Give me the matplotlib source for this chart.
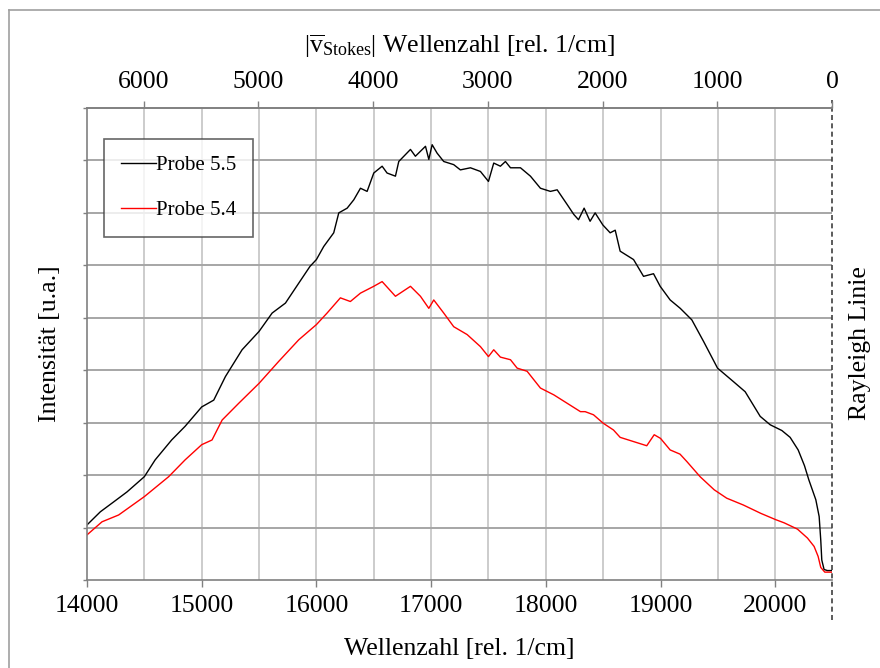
import matplotlib
matplotlib.use("Agg")
import matplotlib.pyplot as plt
from matplotlib.lines import Line2D

plt.rcParams['font.family'] = ['Liberation Serif', 'DejaVu Serif']
plt.rcParams['mathtext.fontset'] = 'custom'
plt.rcParams['mathtext.rm'] = 'Liberation Serif'
plt.rcParams['mathtext.it'] = 'Liberation Serif:italic'

# Probe 5.5 (black)
wn55 = [14000, 14116, 14233, 14349, 14500, 14594, 14738, 14855, 15000, 15105,
        15207, 15352, 15500, 15614, 15730, 15846, 15944, 16000, 16064, 16151,
        16195, 16268, 16326, 16384, 16442, 16500, 16573, 16616, 16689, 16718,
        16820, 16863, 16951, 16980, 17009, 17052, 17110, 17197, 17255, 17343,
        17430, 17500, 17546, 17604, 17648, 17692, 17779, 17866, 17953, 18040,
        18099, 18186, 18244, 18285, 18334, 18386, 18430, 18497, 18561, 18605,
        18648, 18765, 18852, 18939, 18997, 19084, 19172, 19273, 19375, 19497,
        19637, 19738, 19869, 19956, 20058, 20130, 20200, 20255, 20293, 20354,
        20383, 20397, 20406, 20426, 20455, 20495]
int55 = [1.05, 1.30, 1.49, 1.68, 1.97, 2.29, 2.67, 2.93, 3.30, 3.43,
         3.88, 4.39, 4.74, 5.09, 5.28, 5.66, 5.98, 6.11, 6.36, 6.62,
         7.00, 7.09, 7.25, 7.47, 7.41, 7.76, 7.89, 7.76, 7.70, 7.98,
         8.21, 8.08, 8.27, 8.02, 8.30, 8.14, 7.98, 7.92, 7.82, 7.86,
         7.79, 7.60, 7.95, 7.89, 7.98, 7.86, 7.86, 7.70, 7.47, 7.41,
         7.44, 7.16, 6.97, 6.87, 7.09, 6.84, 7.00, 6.77, 6.62, 6.67,
         6.27, 6.11, 5.79, 5.84, 5.60, 5.34, 5.18, 4.96, 4.55, 4.04,
         3.78, 3.59, 3.12, 2.96, 2.85, 2.72, 2.48, 2.18, 1.91, 1.53,
         1.21, 0.76, 0.38, 0.20, 0.18, 0.18]

# Probe 5.4 (red)
wn54 = [14000, 14131, 14276, 14500, 14712, 14855, 15000, 15090, 15178, 15323,
        15500, 15672, 15846, 16000, 16093, 16209, 16296, 16384, 16500, 16573,
        16689, 16820, 16907, 16980, 17023, 17110, 17197, 17314, 17430, 17500,
        17546, 17604, 17692, 17750, 17837, 17953, 18070, 18186, 18302, 18343,
        18416, 18500, 18590, 18648, 18764, 18880, 18945, 19000, 19084, 19170,
        19229, 19345, 19468, 19577, 19722, 19875, 20005, 20078, 20194, 20281,
        20339, 20374, 20397, 20432, 20495]
int54 = [0.86, 1.11, 1.24, 1.59, 1.97, 2.29, 2.58, 2.67, 3.05, 3.37,
         3.75, 4.17, 4.58, 4.87, 5.09, 5.38, 5.31, 5.47, 5.60, 5.69,
         5.41, 5.60, 5.41, 5.18, 5.34, 5.09, 4.83, 4.68, 4.45, 4.26,
         4.39, 4.25, 4.20, 4.04, 3.98, 3.66, 3.53, 3.37, 3.21, 3.21,
         3.15, 2.99, 2.86, 2.72, 2.64, 2.56, 2.77, 2.70, 2.48, 2.40,
         2.26, 1.97, 1.72, 1.56, 1.43, 1.27, 1.15, 1.09, 0.97, 0.80,
         0.64, 0.45, 0.24, 0.15, 0.15]

rayleigh = 20495
bottom_ticks = [14000, 15000, 16000, 17000, 18000, 19000, 20000]
top_ticks = [6000, 5000, 4000, 3000, 2000, 1000, 0]

fig = plt.figure(figsize=(8.8, 6.68), dpi=100)
ax = fig.add_axes([87/880, 1-580/668, (832-87)/880, (580-108)/668])

# outer frame
fig.add_artist(Line2D([9/880, 9/880], [0, 1-10/668], color='#a0a0a0', lw=1.2))
fig.add_artist(Line2D([9/880, 1], [1-10/668, 1-10/668], color='#a0a0a0', lw=1.2))

for x in range(14500, 20001, 500):
    ax.axvline(x, color='#cccccc', lw=1.4, zorder=0)
for y in range(1, 9):
    ax.axhline(y, color='#a6a6a6', lw=1.4, zorder=0)

ax.plot(wn55, int55, color='black', lw=1.0, label='Probe 5.5')
ax.plot(wn54, int54, color='red', lw=1.0, label='Probe 5.4')

ax.set_xlim(14000, rayleigh)
ax.set_ylim(0, 9)
ax.set_xticks(bottom_ticks)
ax.set_xticklabels([str(t) for t in bottom_ticks])
ax.set_yticks(range(0, 10))
ax.set_yticklabels([])
ax.tick_params(axis='x', direction='out', length=5, width=1, color='#808080',
               labelsize=18.5, pad=6)
ax.tick_params(axis='y', direction='out', length=3, width=1, color='#808080')
for s in ['left', 'bottom', 'top']:
    ax.spines[s].set_color('#808080')
    ax.spines[s].set_linewidth(1.2)
ax.spines['right'].set_visible(False)

# Rayleigh line
ax.plot([rayleigh, rayleigh], [-0.76, 9.15], color='#404040', lw=1.2,
        ls=(0, (3, 2)), clip_on=False)

ax.set_xlabel('Wellenzahl [rel. 1/cm]', fontsize=18.5, labelpad=15)
ax.set_ylabel('Intensität [u.a.]', fontsize=18.5, labelpad=12)

top = ax.twiny()
top.set_xlim(rayleigh - 14000, 0)
top.set_xticks(top_ticks)
top.set_xticklabels([str(t) for t in top_ticks])
top.tick_params(axis='x', direction='out', length=5, width=1, color='#808080',
                labelsize=18.5, pad=6)
for s in ['left', 'bottom', 'right']:
    top.spines[s].set_visible(False)
top.spines['top'].set_color('#808080')
top.spines['top'].set_linewidth(1.2)
top.set_xlabel(r'$|\overline{\mathrm{v}}_{\mathrm{Stokes}}|$ Wellenzahl [rel. 1/cm]',
               fontsize=18.5, labelpad=13)

fig.text(860/880, 1-343/668, 'Rayleigh Linie', rotation=90, fontsize=18.5,
         ha='center', va='center')

leg = ax.legend(loc='upper left', bbox_to_anchor=(104/880, 1-139/668),
                bbox_transform=fig.transFigure, fontsize=15, frameon=True,
                fancybox=False, borderaxespad=0, handlelength=1.7,
                handletextpad=0.0, labelspacing=1.2, borderpad=0.8)
leg.get_frame().set_edgecolor('#404040')
leg.get_frame().set_linewidth(1.2)

fig.savefig('out.png', dpi=100)
